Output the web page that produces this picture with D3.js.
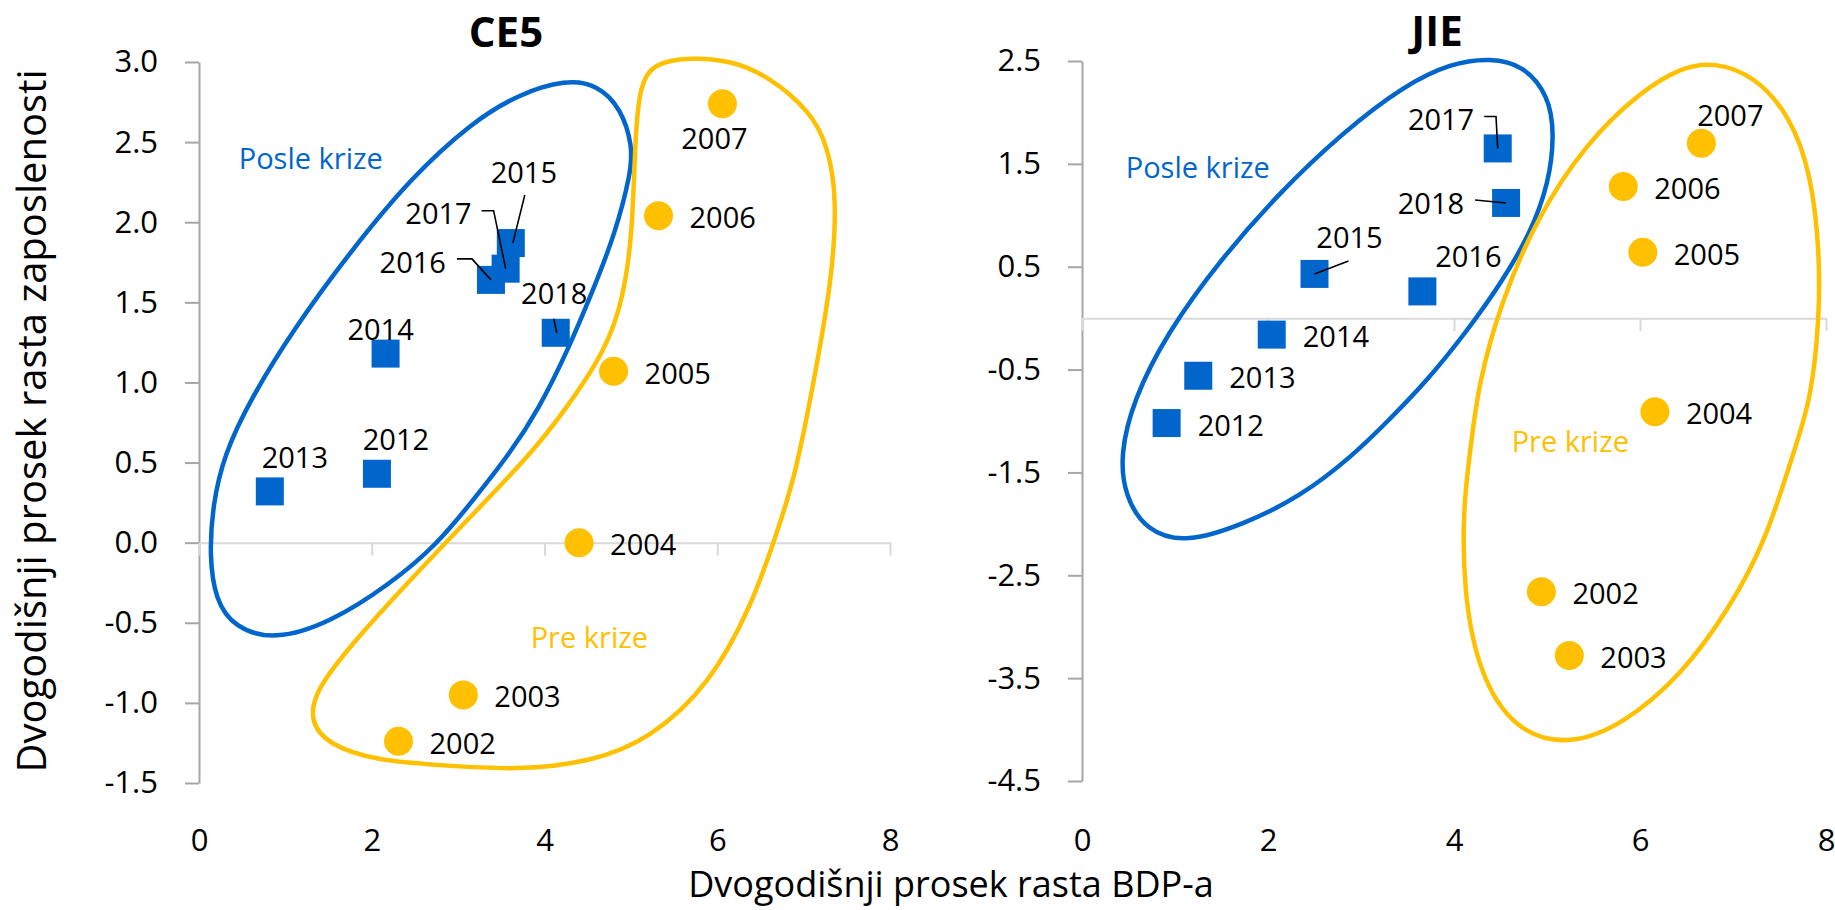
<!DOCTYPE html>
<meta charset="utf-8">
<style>
body { margin: 0; background: #fff; }
text { font-family: "Open Sans", sans-serif; }
</style>
<script src="https://d3js.org/d3.v7.min.js"></script>
<body>
<script>

var width = 1835
var height = 910

var blue = '#0066cc'
var gold = '#ffc000'

// godine
var yearsPost = [2012, 2013, 2014, 2015, 2016, 2017, 2018]
var yearsPre = [2002, 2003, 2004, 2005, 2006, 2007]
var xTicks = [0, 2, 4, 6, 8]

// CE5: x = BDP, y = zaposlenost
var ce5PostGdp = [2.06, 0.82, 2.16, 3.61, 3.38, 3.55, 4.13]
var ce5PostEmp = [0.43, 0.32, 1.18, 1.87, 1.64, 1.71, 1.31]
var ce5PreGdp = [2.31, 3.06, 4.40, 4.80, 5.32, 6.06]
var ce5PreEmp = [-1.24, -0.95, 0.00, 1.07, 2.04, 2.74]
var ce5YTicks = [-1.5, -1.0, -0.5, 0, 0.5, 1.0, 1.5, 2.0, 2.5, 3.0]

// JIE
var jiePostGdp = [0.91, 1.25, 2.04, 2.50, 3.66, 4.47, 4.56]
var jiePostEmp = [-1.02, -0.56, -0.16, 0.43, 0.26, 1.65, 1.12]
var jiePreGdp = [4.94, 5.24, 6.16, 6.03, 5.82, 6.66]
var jiePreEmp = [-2.66, -3.28, -0.91, 0.64, 1.28, 1.70]
var jieYTicks = [-4.5, -3.5, -2.5, -1.5, -0.5, 0.5, 1.5, 2.5]

// rucno nacrtane konture grupa (u jedinicama osa)
var ce5PostShape = [[4.25,2.89],[4.61,2.86],[4.89,2.71],[5.02,2.47],[5.00,2.31],[4.82,1.93],[4.55,1.56],[4.27,1.20],[3.93,0.83],[3.59,0.55],[3.18,0.27],[2.76,-0.01],[2.21,-0.26],[1.52,-0.50],[0.87,-0.61],[0.41,-0.53],[0.19,-0.36],[0.12,-0.08],[0.16,0.24],[0.29,0.55],[0.60,0.90],[1.09,1.33],[1.77,1.83],[2.46,2.28],[3.15,2.62],[3.70,2.80]]
var ce5PreShape = [[5.68,3.03],[5.25,2.99],[5.11,2.86],[5.05,2.56],[5.02,1.93],[4.91,1.52],[4.71,1.20],[4.23,0.82],[3.82,0.54],[3.14,0.16],[2.45,-0.23],[1.77,-0.63],[1.35,-0.92],[1.28,-1.11],[1.49,-1.26],[2.05,-1.36],[2.82,-1.39],[3.70,-1.42],[4.54,-1.37],[5.24,-1.22],[5.92,-0.88],[6.40,-0.39],[6.67,0.03],[6.91,0.42],[7.15,1.10],[7.32,1.62],[7.39,2.14],[7.28,2.48],[7.08,2.69],[6.60,2.91],[6.16,3.01]]
var jiePostShape = [[4.39,2.53],[4.75,2.46],[5.02,2.16],[5.08,1.79],[5.02,1.31],[4.82,0.82],[4.50,0.33],[4.12,-0.15],[3.68,-0.64],[3.30,-0.99],[2.91,-1.34],[2.34,-1.74],[1.75,-2.00],[1.12,-2.19],[0.69,-2.07],[0.46,-1.73],[0.41,-1.33],[0.55,-0.80],[0.91,-0.15],[1.48,0.56],[2.12,1.22],[2.81,1.81],[3.46,2.26],[3.97,2.48]]
var jiePreShape = [[6.79,2.49],[7.23,2.36],[7.62,1.96],[7.84,1.40],[7.93,0.66],[7.93,0.01],[7.84,-0.80],[7.64,-1.33],[7.36,-2.15],[6.97,-2.81],[6.46,-3.46],[5.81,-3.96],[5.21,-4.16],[4.65,-4.01],[4.26,-3.45],[4.10,-2.63],[4.10,-1.82],[4.17,-1.33],[4.26,-0.64],[4.51,0.17],[4.90,0.99],[5.42,1.70],[6.00,2.20],[6.45,2.44]]

var svg = d3.select('body').append('svg').attr('width', width).attr('height', height)

// raspored natpisa: [anchor, dx, dy] u pikselima od tacke
var R = ['start', 31, 12.5]
var ce5Labels = {2012:['middle',19,-24], 2013:['middle',25,-23], 2014:['middle',-5,-14], 2015:['middle',13,-60],
  2016:['end',-45,-7], 2017:['end',-34,-45], 2018:['middle',-1.5,-29],
  2002:R, 2003:R, 2004:R, 2005:R, 2006:R, 2007:['middle',-8,45]}
var ce5Leaders = {2015:[[14,-48],[2,0]], 2016:[[-34,-21],[-19,-21],[0,0]], 2017:[[-24,-58],[-12,-58],[0,0]], 2018:[[-2,-14],[1,0]]}
var jieLabels = {2012:R, 2013:R, 2014:R, 2015:['middle',35,-26], 2016:['middle',46,-24],
  2017:['end',-23.5,-18], 2018:['end',-42,10.6],
  2002:R, 2003:R, 2004:R, 2005:R, 2006:R, 2007:['middle',29,-17]}
var jieLeaders = {2015:[[34,-13],[0,0]], 2017:[[-13.5,-32],[-1.7,-32],[0,0]], 2018:[[-31,-3],[0,0]]}

function panel(p){
  var x = d3.scaleLinear().domain([0, 8]).range([p.left, p.right])
  var y = d3.scaleLinear().domain(p.ydom).range([p.bottom, p.top])
  var g = svg.append('g')

  var ya = g.append('g').attr('transform', 'translate(' + p.left + ',0)')
    .call(d3.axisLeft(y).tickValues(p.yticks).tickSize(14).tickSizeOuter(0).tickPadding(27)
      .tickFormat(d => d.toFixed(1)))
  ya.select('.domain').attr('stroke', '#a6a6a6').attr('stroke-width', 2)
  ya.selectAll('.tick line').attr('stroke', '#a6a6a6').attr('stroke-width', 2)
  ya.selectAll('text').style('font-size', '31px').style('font-family', '"Open Sans"').attr('fill', '#000')

  var xa = g.append('g').attr('transform', 'translate(0,' + y(0) + ')')
    .call(d3.axisBottom(x).tickValues(xTicks).tickSize(13).tickSizeOuter(0).tickFormat(''))
  xa.select('.domain').attr('stroke', '#d9d9d9').attr('stroke-width', 2)
  xa.selectAll('.tick line').attr('stroke', '#d9d9d9').attr('stroke-width', 2)

  var xl = g.append('g').attr('transform', 'translate(0,829)')
    .call(d3.axisBottom(x).tickValues(xTicks).tickSize(0).tickPadding(0))
  xl.select('.domain').remove()
  xl.selectAll('text').style('font-size', '31px').style('font-family', '"Open Sans"').attr('fill', '#000')

  var line = d3.line().x(d => x(d[0])).y(d => y(d[1])).curve(d3.curveBasisClosed)
  g.append('path').attr('d', line(p.postShape)).attr('fill', 'none').attr('stroke', blue).attr('stroke-width', 4.5)
  g.append('path').attr('d', line(p.preShape)).attr('fill', 'none').attr('stroke', gold).attr('stroke-width', 4.5)

  var post = yearsPost.map((yr, i) => ({year: yr, gx: p.postGdp[i], ey: p.postEmp[i]}))
  var pre = yearsPre.map((yr, i) => ({year: yr, gx: p.preGdp[i], ey: p.preEmp[i]}))

  g.selectAll('rect.m').data(post).enter().append('rect').attr('class', 'm')
    .attr('x', d => x(d.gx) - 14).attr('y', d => y(d.ey) - 14)
    .attr('width', 28).attr('height', 28).attr('fill', blue)
  g.selectAll('circle.m').data(pre).enter().append('circle').attr('class', 'm')
    .attr('cx', d => x(d.gx)).attr('cy', d => y(d.ey)).attr('r', 14.5).attr('fill', gold)

  var all = post.concat(pre)
  var lead = d3.line()
  all.forEach(d => {
    var px = x(d.gx), py = y(d.ey)
    var L = p.labels[d.year]
    g.append('text').attr('x', px + L[1]).attr('y', py + L[2]).attr('text-anchor', L[0])
      .style('font-size', '29px').attr('fill', '#000').text(d.year)
    if (p.leaders[d.year]) {
      g.append('path').attr('d', lead(p.leaders[d.year].map(q => [px + q[0], py + q[1]])))
        .attr('fill', 'none').attr('stroke', '#000').attr('stroke-width', 1.6)
    }
  })

  g.append('text').attr('x', x(p.postTxt[0])).attr('y', y(p.postTxt[1]))
    .style('font-size', '29px').attr('fill', blue).text('Posle krize')
  g.append('text').attr('x', x(p.preTxt[0])).attr('y', y(p.preTxt[1]))
    .style('font-size', '29px').attr('fill', gold).text('Pre krize')

  g.append('text').attr('x', p.titleX).attr('y', p.titleY).attr('text-anchor', 'middle')
    .style('font-size', '42px').style('font-weight', 700).attr('fill', '#000').text(p.title)
}

panel({title: 'CE5', titleX: 506, titleY: 47, left: 199, right: 890, top: 62, bottom: 783,
  ydom: [-1.5, 3.0], yticks: ce5YTicks,
  postGdp: ce5PostGdp, postEmp: ce5PostEmp, preGdp: ce5PreGdp, preEmp: ce5PreEmp,
  postShape: ce5PostShape, preShape: ce5PreShape,
  labels: ce5Labels, leaders: ce5Leaders, postTxt: [0.46, 2.33], preTxt: [3.84, -0.655]})

panel({title: 'JIE', titleX: 1437, titleY: 46, left: 1082, right: 1826, top: 61, bottom: 781,
  ydom: [-4.5, 2.5], yticks: jieYTicks,
  postGdp: jiePostGdp, postEmp: jiePostEmp, preGdp: jiePreGdp, preEmp: jiePreEmp,
  postShape: jiePostShape, preShape: jiePreShape,
  labels: jieLabels, leaders: jieLeaders, postTxt: [0.47, 1.36], preTxt: [4.62, -1.30]})

svg.append('text').attr('x', 951).attr('y', 897).attr('text-anchor', 'middle')
  .style('font-size', '36px').attr('fill', '#000').text('Dvogodišnji prosek rasta BDP-a')

svg.append('text').attr('transform', 'translate(46,421) rotate(-90)').attr('text-anchor', 'middle')
  .style('font-size', '40px').attr('fill', '#000').text('Dvogodišnji prosek rasta zaposlenosti')

</script>
